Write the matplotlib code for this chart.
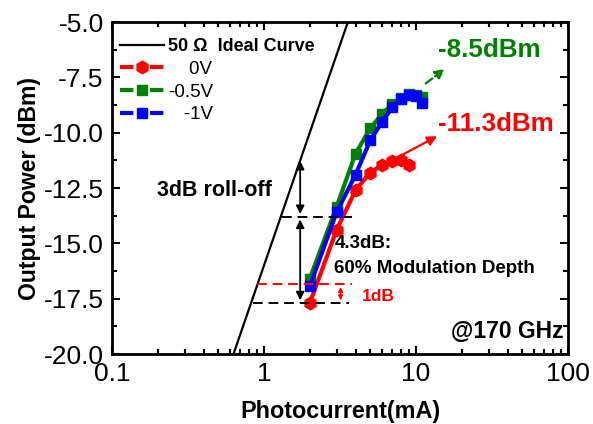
import matplotlib
matplotlib.use("Agg")
import matplotlib.pyplot as plt
from matplotlib.lines import Line2D
from matplotlib.ticker import FixedLocator, LogLocator, NullFormatter, FuncFormatter

plt.rcParams['font.family'] = ['Liberation Sans', 'DejaVu Sans']

# ideal 50 ohm curve (end points)
ideal_i = [0.5, 4.0]
ideal_p = [-22.0, -4.0]

# measured output power vs photocurrent
i_0v = [2, 3, 4, 5, 6, 7, 8, 9]
p_0v = [-17.7, -14.4, -12.6, -11.8, -11.45, -11.3, -11.25, -11.45]

i_05v = [2, 3, 4, 5, 6, 7, 8, 9, 10, 11]
p_05v = [-16.6, -13.35, -10.95, -9.8, -9.15, -8.7, -8.45, -8.25, -8.3, -8.4]

i_1v = [2, 3, 4, 5, 6, 7, 8, 9, 10, 11]
p_1v = [-16.95, -13.6, -11.9, -10.35, -9.5, -8.85, -8.5, -8.3, -8.35, -8.65]

y_ticks = [-20.0, -17.5, -15.0, -12.5, -10.0, -7.5, -5.0]
x_ticks = [0.1, 1, 10, 100]

fig = plt.figure(figsize=(5.93, 4.24), dpi=100)
ax = fig.add_axes([112 / 593, 1 - 354 / 424, 456 / 593, 332 / 424])

ax.plot(ideal_i, ideal_p, color='black', lw=1.6, label='50 Ω  Ideal Curve')
ax.plot(i_0v, p_0v, color='red', lw=3, marker='h', ms=9, label='0V')
ax.plot(i_05v, p_05v, color='green', lw=3, marker='s', ms=7, label='-0.5V')
ax.plot(i_1v, p_1v, color='blue', lw=3, marker='s', ms=7, label='-1V')

ax.set_xscale('log')
ax.set_xlim(0.1, 100)
ax.set_ylim(-20, -5)
ax.set_xticks(x_ticks)
ax.xaxis.set_major_formatter(FuncFormatter(lambda v, p: '%g' % v))
ax.xaxis.set_minor_locator(LogLocator(base=10, subs=range(2, 10)))
ax.xaxis.set_minor_formatter(NullFormatter())
ax.set_yticks(y_ticks)
ax.yaxis.set_major_formatter(FuncFormatter(lambda v, p: '%.1f' % v))
ax.yaxis.set_minor_locator(FixedLocator([-18.75, -16.25, -13.75, -11.25, -8.75, -6.25]))

ax.tick_params(which='both', direction='in', top=True, right=True, width=1.5, labelsize=19)
ax.tick_params(which='major', length=6)
ax.tick_params(which='minor', length=3.5)
ax.tick_params(axis='x', pad=6)
ax.tick_params(axis='y', pad=6)
for s in ax.spines.values():
    s.set_linewidth(2)

ax.set_xlabel('Photocurrent(mA)', fontsize=16.8, fontweight='bold', labelpad=10)
ax.set_ylabel('Output Power (dBm)', fontsize=16.6, fontweight='bold', labelpad=2)

# annotations
ax.text(0.197, -12.6, '3dB roll-off', fontsize=15.5, fontweight='bold', va='center')
ax.annotate('', xy=(1.73, -11.15), xytext=(1.73, -13.8),
            arrowprops=dict(arrowstyle='<|-|>', color='black', lw=1.3, mutation_scale=12))
ax.annotate('', xy=(1.73, -13.8), xytext=(1.73, -17.7),
            arrowprops=dict(arrowstyle='<|-|>', color='black', lw=1.3, mutation_scale=12))
ax.plot([1.31, 3.78], [-13.8, -13.8], color='black', lw=1.4, ls=(0, (5, 3)))
ax.plot([0.85, 3.6], [-17.7, -17.7], color='black', lw=1.4, ls=(0, (5, 3)))
ax.plot([0.9, 3.78], [-16.85, -16.85], color='red', lw=1.4, ls=(0, (5, 3)))
ax.annotate('', xy=(3.19, -16.85), xytext=(3.19, -17.7),
            arrowprops=dict(arrowstyle='<|-|>', color='red', lw=1, mutation_scale=7))
ax.text(4.4, -17.4, '1dB', fontsize=12.5, fontweight='bold', color='red', va='center')
ax.text(2.9, -15.0, '4.3dB:', fontsize=13.5, fontweight='bold', va='center')
ax.text(2.9, -16.15, '60% Modulation Depth', fontsize=13.5, fontweight='bold', va='center')

ax.annotate('', xy=(16.0, -7.05), xytext=(11.2, -7.85),
            arrowprops=dict(arrowstyle='-|>', color='green', lw=1.6, ls='--', mutation_scale=14))
ax.text(14.0, -6.25, '-8.5dBm', fontsize=18.7, fontweight='bold', color='green', va='center')
ax.annotate('', xy=(14.3, -10.1), xytext=(7.4, -11.15),
            arrowprops=dict(arrowstyle='-|>', color='red', lw=1.6, mutation_scale=14))
ax.text(13.9, -9.6, '-11.3dBm', fontsize=18.7, fontweight='bold', color='red', va='center')
ax.text(93, -19.0, '@170 GHz', fontsize=16.5, fontweight='bold', ha='right', va='center')

dash = (0, (3.2, 4.0))
handles = [
    Line2D([], [], color='black', lw=1.6),
    Line2D([], [], color='red', lw=3, ls=dash, marker='h', ms=9),
    Line2D([], [], color='green', lw=3, ls=dash, marker='s', ms=7),
    Line2D([], [], color='blue', lw=3, ls=dash, marker='s', ms=7),
]
labels = ['50 Ω  Ideal Curve', '    0V', '-0.5V', '   -1V']
leg = ax.legend(handles, labels, loc='upper left', frameon=False, fontsize=13.5,
                handlelength=2.33, handletextpad=0.25, labelspacing=0.3,
                borderaxespad=0.55, borderpad=0.3, bbox_to_anchor=(-8 / 456, 1.0))
leg.get_texts()[0].set_fontweight('bold')
leg.get_texts()[0].set_fontsize(13)

fig.savefig('out.png', dpi=100)
